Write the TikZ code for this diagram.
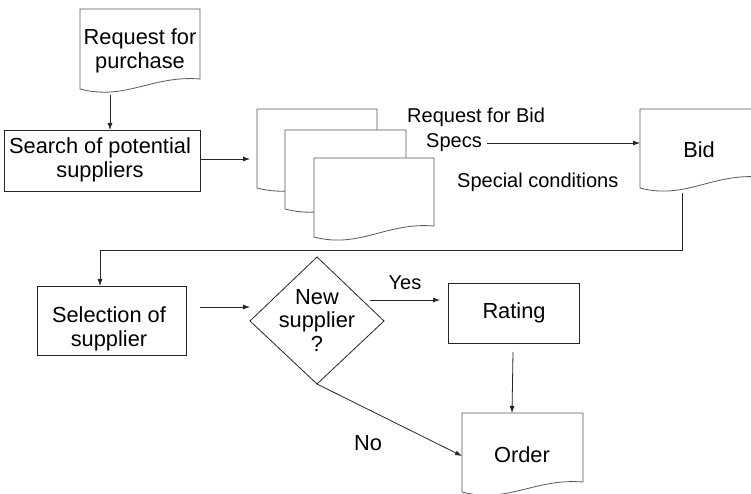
\documentclass[tikz,border=0pt]{standalone}
\usepackage{fontspec}
\setmainfont{Liberation Sans}
\usetikzlibrary{arrows.meta,shapes.geometric}
\tikzset{
  ln/.style={draw=black!85, line width=0.8pt},
  docln/.style={draw=black!65, line width=0.8pt, fill=white},
  arr/.style={ln, -{Latex[length=7pt,width=5pt]}},
  txt/.style={font=\fontsize{20}{23}\selectfont, align=center, inner sep=0pt},
  btxt/.style={font=\fontsize{21.8}{23.5}\selectfont, align=center, inner sep=0pt},
  boxn/.style={ln, rectangle, anchor=north west},
}
\newcommand{\docpath}[5]{% L, R, top, yL, yR
  \path[docln] (#1,#4) -- (#1,#3) -- (#2,#3) -- (#2,#5)
    .. controls ({#1+0.6*(#2-#1)},{#5-4}) and ({#1+0.38*(#2-#1)},{#4+12}) .. (#1,#4) -- cycle;}
\begin{document}
\begin{tikzpicture}[x=1pt,y=-1pt]
\clip (0,0) rectangle (751,494);
\fill[white] (0,0) rectangle (751,494);

% Request for purchase document
\docpath{80}{200}{9}{89}{79}
\node[btxt] (req) at (140,51) {Request for\\purchase};
\coordinate (reqb) at (110,95);

% Search box
\node[boxn, minimum width=196pt, minimum height=61pt] (search) at (4,130) {};
\node[btxt] (searcht) at (100,160) {Search of potential\\suppliers};

% stacked documents
\docpath{257}{377}{109}{188}{178}
\docpath{285}{406}{130}{209}{199}
\docpath{314}{434}{158}{237}{226}
\coordinate (stackin) at (250,159);

% labels
\node[txt, anchor=west] (rfb) at (407,117) {Request for Bid};
\node[txt, anchor=west] (specs) at (426,143) {Specs};
\node[txt, anchor=west] (spc) at (457,182) {Special conditions};

% Bid document
\docpath{640}{760}{109}{188}{177}
\node[btxt] (bid) at (699,150) {Bid};
\coordinate (bidin) at (640,143);
\coordinate (bidb) at (682,193);
\coordinate (bend1) at (682,250);
\coordinate (bend2) at (100,250);

% Selection box
\node[boxn, minimum width=149pt, minimum height=69pt] (sel) at (37,286) {};
\node[btxt] (selt) at (109,329) {Selection of\\supplier};
\coordinate (selout) at (200,307);
\coordinate (diamin) at (250,307);

% diamond
\path[ln] (250,321) -- (317,257) -- (384,321) -- (317,384) -- cycle;
\node[btxt] (dia) at (317,320) {New\\supplier\\?};
\coordinate (diab) at (317,384);
\coordinate (yes1) at (370,300);
\coordinate (yes2) at (440,300);
\node[txt] (yes) at (405,283) {Yes};

% Rating
\node[boxn, minimum width=131pt, minimum height=60pt] (rat) at (448,283) {};
\node[btxt] (ratt) at (514,313) {Rating};
\coordinate (ratb) at (513,352);

% Order document
\docpath{462}{583}{413}{492}{482}
\node[btxt] (ord) at (522,455) {Order};
\coordinate (ordt) at (512,413);
\coordinate (ordl) at (462,456);
\node[btxt] (no) at (368,443) {No};

% connectors
\draw[arr] (reqb) -- (reqb |- search.north);
\draw[arr] (search.east |- stackin) -- (stackin);
\draw[arr] (specs.east) ++(5,0) coordinate (specse) -- (bidin);
\draw[arr] (bidb) -- (bend1) -- (bend2) -- (bend2 |- sel.north);
\draw[arr] (selout) -- (diamin);
\draw[arr] (yes1) -- (yes2);
\draw[arr] (ratb) -- (ordt);
\draw[arr] (diab) -- (ordl);
\end{tikzpicture}
\end{document}
